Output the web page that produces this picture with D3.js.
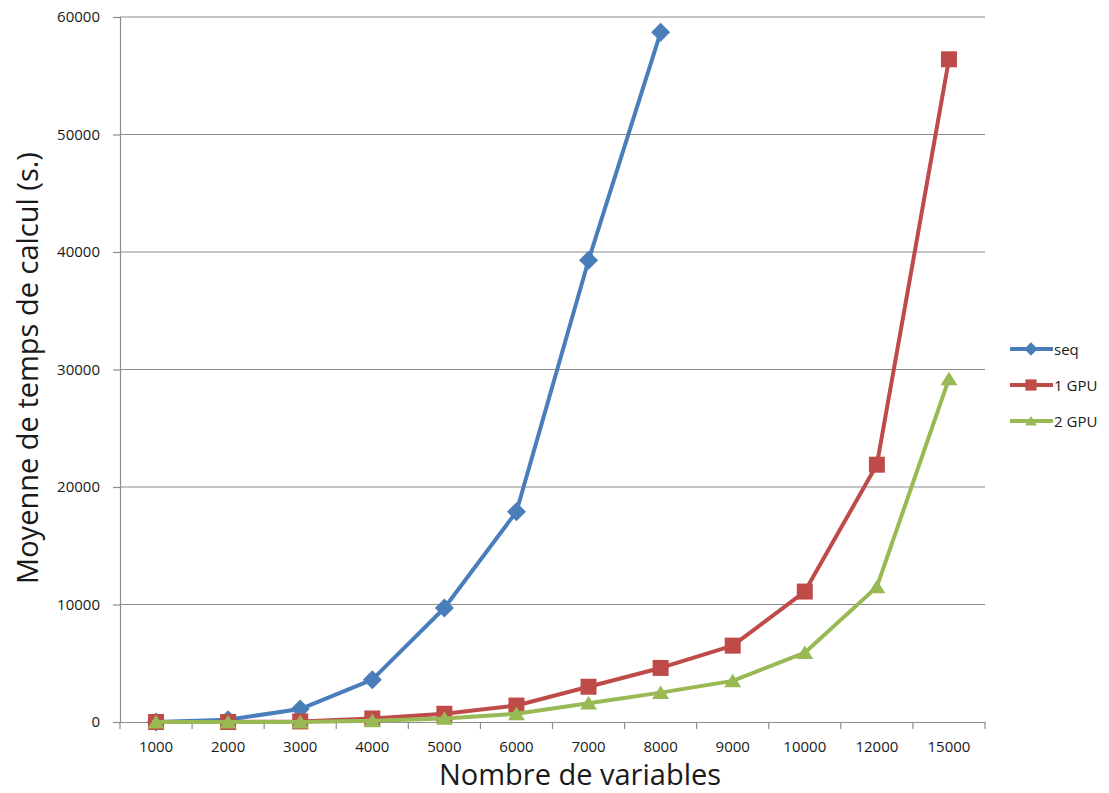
<!DOCTYPE html>
<html>
<head>
<meta charset="utf-8">
<script src="https://cdn.jsdelivr.net/npm/d3@7"></script>
<style>
  body { margin: 0; background: #fff; }
  svg text { font-family: "Open Sans", "DejaVu Sans", sans-serif; fill: #1a1a1a; }
</style>
</head>
<body>
<div id="chart"></div>
<script>
// categories and series
var categories = ["1000", "2000", "3000", "4000", "5000", "6000", "7000", "8000", "9000", "10000", "12000", "15000"]
var seqValues = [0, 200, 1100, 3600, 9700, 17900, 39300, 58700]
var gpu1Values = [0, 0, 50, 300, 700, 1400, 3000, 4600, 6500, 11100, 21900, 56400]
var gpu2Values = [0, 0, 0, 100, 300, 700, 1600, 2500, 3500, 5900, 11500, 29200]
var yTicks = [0, 10000, 20000, 30000, 40000, 50000, 60000]
var seriesNames = ["seq", "1 GPU", "2 GPU"]

var width = 1109, height = 793
// "top" is a window global, so use plot* names
var plotLeft = 120, plotRight = 985, plotTop = 17, plotBottom = 722

var svg = d3.select("#chart").append("svg")
    .attr("width", width)
    .attr("height", height)

var x = d3.scaleBand().domain(categories).range([plotLeft, plotRight])
var y = d3.scaleLinear().domain([0, 60000]).range([plotBottom, plotTop])

// grid
svg.append("g").selectAll("line")
    .data(yTicks.filter(d => d > 0))
    .join("line")
        .attr("x1", plotLeft).attr("x2", plotRight)
        .attr("y1", d => y(d)).attr("y2", d => y(d))
        .attr("stroke", "#8c8c8c").attr("stroke-width", 1.2)

// y axis
var yAxis = svg.append("g")
    .attr("transform", `translate(${plotLeft},0)`)
    .call(d3.axisLeft(y).tickValues(yTicks).tickSize(7).tickPadding(13).tickFormat(d3.format("d")))
yAxis.select(".domain").attr("stroke", "#8c8c8c").attr("stroke-width", 1.2)
yAxis.selectAll(".tick line").attr("stroke", "#8c8c8c").attr("stroke-width", 1.2)
yAxis.selectAll("text").attr("font-size", 15)

// x axis, ticks at band edges
var xAxis = svg.append("g")
    .attr("transform", `translate(0,${plotBottom})`)
    .call(d3.axisBottom(x).tickSize(0).tickPadding(19))
xAxis.select(".domain").attr("stroke", "#8c8c8c").attr("stroke-width", 1.2)
xAxis.selectAll("text").attr("font-size", 15)
svg.append("g").selectAll("line")
    .data(categories.concat(["end"]))
    .join("line")
        .attr("x1", (d, i) => plotLeft + i*x.step()).attr("x2", (d, i) => plotLeft + i*x.step())
        .attr("y1", plotBottom).attr("y2", plotBottom + 7)
        .attr("stroke", "#8c8c8c").attr("stroke-width", 1.2)

// axis titles
svg.append("text")
    .attr("x", 580).attr("y", 785)
    .attr("text-anchor", "middle").attr("font-size", 29)
    .text("Nombre de variables")
svg.append("text")
    .attr("transform", `translate(38,368) rotate(-90)`)
    .attr("text-anchor", "middle").attr("font-size", 29)
    .text("Moyenne de temps de calcul (s.)")

// marker shapes, r = half width
function marker(shape, r) {
    if (shape == "diamond") return `M0,${-r}L${r},0L0,${r}L${-r},0Z`
    if (shape == "square") return `M${-r},${-r}H${r}V${r}H${-r}Z`
    return `M0,${-r*0.85}L${r},${r*0.75}H${-r}Z`
}

var cx = (d, i) => x(categories[i]) + x.bandwidth()/2
var line = d3.line().x(cx).y(d => y(d))

var series = [
    {name: seriesNames[0], values: seqValues, color: "#4a7ebb", shape: "diamond", r: 9.5},
    {name: seriesNames[1], values: gpu1Values, color: "#be4b48", shape: "square", r: 8},
    {name: seriesNames[2], values: gpu2Values, color: "#98b954", shape: "triangle", r: 8.5}
]

series.forEach(function(s) {
    svg.append("path")
        .attr("d", line(s.values))
        .attr("fill", "none")
        .attr("stroke", s.color)
        .attr("stroke-width", 4)
        .attr("stroke-linejoin", "round")
    svg.append("g").selectAll("path")
        .data(s.values)
        .join("path")
            .attr("transform", (d, i) => `translate(${cx(d, i)},${y(d)})`)
            .attr("d", marker(s.shape, s.r))
            .attr("fill", s.color)
})

// legend
var legend = svg.append("g").attr("transform", "translate(1010,349)")
series.forEach(function(s, i) {
    var g = legend.append("g").attr("transform", `translate(0,${i*36})`)
    g.append("line").attr("x1", 0).attr("x2", 43).attr("y1", 0).attr("y2", 0)
        .attr("stroke", s.color).attr("stroke-width", 4)
    g.append("path").attr("transform", "translate(21,0)")
        .attr("d", marker(s.shape, s.r*0.7))
        .attr("fill", s.color)
    g.append("text").attr("x", 44).attr("y", 5.5).attr("font-size", 15).text(s.name)
})
</script>
</body>
</html>
